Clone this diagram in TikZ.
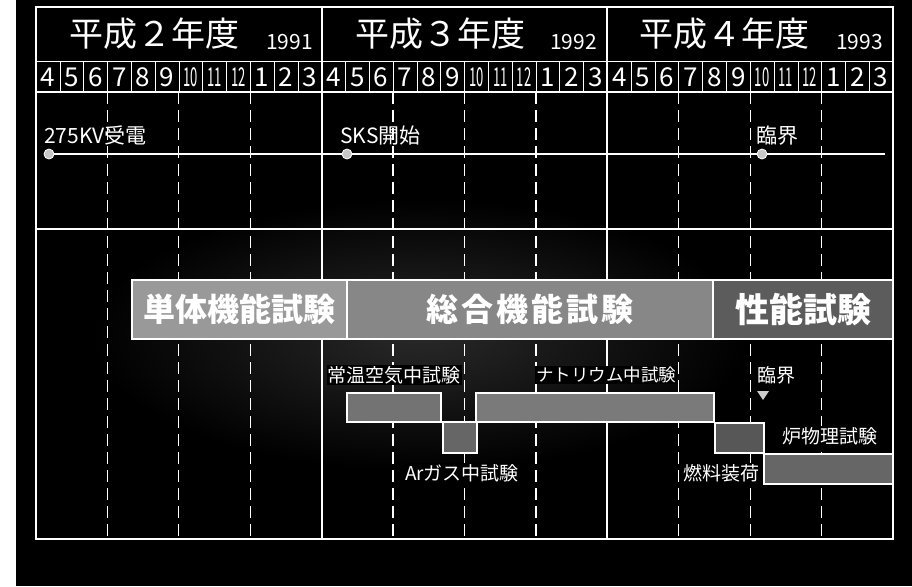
\documentclass[tikz,border=0pt]{standalone}
\usepackage{fontspec}
\setmainfont{Noto Sans CJK JP}
\begin{document}
\begin{tikzpicture}[x=1pt,y=-1pt,
  gridline/.style={white, line width=1.3pt},
  monthline/.style={white, line width=0.6pt},
  qline/.style={white, line width=1.2pt, dash pattern=on 12pt off 6pt},
  band/.style={draw=white, line width=1.3pt, text=white, inner sep=0pt, minimum height=59pt, font=\bfseries\fontsize{32}{32}\selectfont},
  bar/.style={draw=white, line width=1.2pt, inner sep=0pt},
  lbl/.style={text=white, fill=black, inner sep=1pt, font=\fontsize{19}{19}\selectfont},
  evlbl/.style={text=white, inner sep=0pt, font=\fontsize{21}{21}\selectfont},
  head/.style={text=white, inner sep=0pt, font=\fontsize{34}{34}\selectfont},
  yr/.style={text=white, inner sep=0pt, font=\fontsize{21}{21}\selectfont},
  mon/.style={text=white, inner sep=0pt, font=\fontsize{26}{26}\selectfont},
  evdot/.style={circle, fill=gray!45, draw=white, line width=0.8pt, minimum size=10pt, inner sep=0pt}
]
\useasboundingbox (0,0) rectangle (912,586);
\fill[white] (0,0) rectangle (912,586);
\fill[black] (16,0) rectangle (912,586);
% faint stipple area
\shade[inner color=black!84!white, outer color=black] (420,335) ellipse (330 and 135);

% month separators
\foreach \i in {1,...,35}{
  \pgfmathsetmacro\xx{36+\i*23.806}
  \draw[monthline] (\xx,61) -- (\xx,92);
}
% quarter dashed lines
\foreach \q in {3,6,9,15,18,21,27,30,33}{
  \pgfmathsetmacro\xx{36+\q*23.806}
  \draw[qline] (\xx,92) -- (\xx,539);
}
% frame and rows
\draw[gridline] (36,7) rectangle (893,539);
\draw[monthline] (36,61) -- (893,61);
\draw[gridline, line width=1.6pt] (36,92) -- (893,92);
\draw[gridline, line width=1.6pt] (36,229) -- (893,229);
\draw[gridline] (322,7) -- (322,539);
\draw[gridline] (607,7) -- (607,539);

% headers
\node[head, anchor=base west] (h2) at (69,47) {平成２年度};
\node[yr, anchor=base east] (y2) at (313,49) {1991};
\node[head, anchor=base west] (h3) at (355,47) {平成３年度};
\node[yr, anchor=base east] (y3) at (597,49) {1992};
\node[head, anchor=base west] (h4) at (639,47) {平成４年度};
\node[yr, anchor=base east] (y4) at (883,49) {1993};

% months
\foreach \i in {0,...,35}{
  \pgfmathtruncatemacro\m{mod(\i+3,12)+1}
  \pgfmathsetmacro\xx{36+(\i+0.5)*23.806}
  \ifnum\m>9
    \node[mon, anchor=base] (m\i) at (\xx,86.5) {\scalebox{0.5}[1]{\m}};
  \else
    \node[mon, anchor=base] (m\i) at (\xx,86.5) {\m};
  \fi
}

% events
\node[evdot] (d1) at (49,154) {};
\node[evdot] (d2) at (347,154) {};
\node[evdot] (d3) at (762,154) {};
\coordinate (eend) at (885,154);
\draw[gridline, line width=1.6pt] (d1) -- (d2) -- (d3) -- (eend);
\node[evlbl, anchor=base west] (l1) at (44,143) {275KV受電};
\node[evlbl, anchor=base west] (l2) at (340,143) {SKS開始};
\node[evlbl, anchor=base west] (l3) at (756,143) {臨界};

% bands
\node[band, fill=black!40!white, minimum width=215pt] (b1) at (239.5,309.5) {単体機能試験};
\node[band, fill=black!47!white, minimum width=366pt] (b2) at (530,309.5) {\addfontfeature{LetterSpace=9}総合機能試験};
\node[band, fill=black!64!white, minimum width=180pt, font=\bfseries\fontsize{34}{34}\selectfont] (b3) at (803,309.5) {性能試験};

% bars
\node[bar, fill=black!55!white, minimum width=94pt, minimum height=29pt] (r1) at (394,407.5) {};
\node[bar, fill=black!60!white, minimum width=34pt, minimum height=31pt] (r2) at (460,437.5) {};
\node[bar, fill=black!52!white, minimum width=238pt, minimum height=29pt] (r3) at (595,407.5) {};
\node[bar, fill=black!66!white, minimum width=49pt, minimum height=30pt] (r4) at (739.5,438) {};
\node[bar, fill=black!60!white, minimum width=129pt, minimum height=30pt] (r5) at (828.5,469) {};

% labels
\node[lbl] (t1) at (394,375) {常温空気中試験};
\node[lbl, font=\fontsize{17.5}{17.5}\selectfont] (t2) at (606,375) {ナトリウム中試験};
\node[lbl] (t3) at (776,375) {臨界};
\node[lbl] (t4) at (462,473) {Arガス中試験};
\node[lbl] (t5) at (721,473) {燃料装荷};
\node[lbl] (t6) at (830,436) {炉物理試験};
\fill[black!20!white] (757,391) -- (769,391) -- (763,400) -- cycle;
\end{tikzpicture}
\end{document}
